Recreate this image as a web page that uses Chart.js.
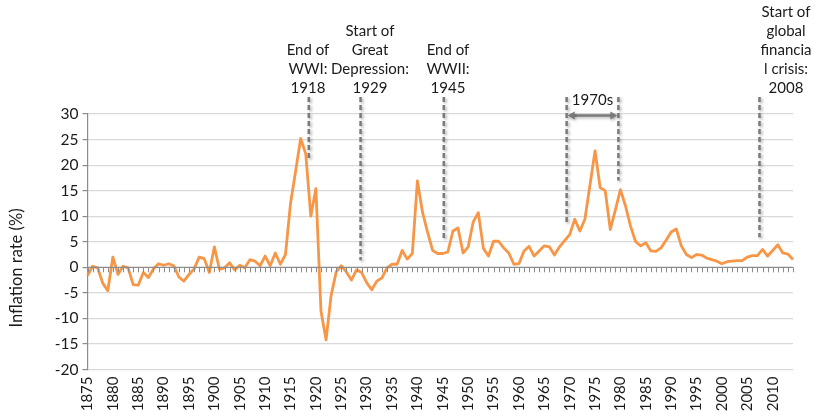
<!DOCTYPE html>
<html>
<head>
<meta charset="utf-8">
<script src="https://cdn.jsdelivr.net/npm/chart.js@4/dist/chart.umd.min.js"></script>
<style>
  html, body { margin: 0; padding: 0; background: #ffffff; }
  #wrap { width: 814px; height: 411px; position: relative; }
</style>
</head>
<body>
<div id="wrap"><canvas id="c" width="814" height="411"></canvas></div>
<script>
// ---- Data ----
const firstYear = 1875;
const lastYear = 2014;
const years = [];
for (let y = firstYear; y <= lastYear; y++) years.push(String(y));

const inflation = [
  -1.6, 0.2, -0.1, -3.1, -4.6, 2.0, -1.4, 0.2, -0.1, -3.4,   // 1875-1884
  -3.5, -1.0, -2.0, -0.3, 0.7, 0.4, 0.7, 0.3, -1.9, -2.7,    // 1885-1894
  -1.4, -0.3, 2.0, 1.7, -1.0, 4.0, -0.4, -0.1, 0.9, -0.5,    // 1895-1904
  0.4, -0.1, 1.5, 1.2, 0.3, 2.2, 0.3, 2.8, 0.6, 2.5,         // 1905-1914
  12.5, 18.8, 25.2, 22.2, 10.0, 15.4, -8.6, -14.2, -5.5, -0.9, // 1915-1924
  0.3, -0.9, -2.5, -0.5, -1.0, -3.0, -4.4, -2.7, -2.1, -0.1, // 1925-1934
  0.6, 0.6, 3.3, 1.6, 2.7, 16.9, 10.8, 6.9, 3.3, 2.7,       // 1935-1944
  2.7, 3.0, 7.1, 7.7, 2.8, 4.0, 8.9, 10.7, 3.7, 2.2,        // 1945-1954
  5.1, 5.1, 3.8, 2.8, 0.6, 0.7, 3.2, 4.1, 2.2, 3.2,         // 1955-1964
  4.2, 4.0, 2.4, 4.0, 5.2, 6.4, 9.4, 7.1, 9.4, 16.1,        // 1965-1974
  22.8, 15.6, 15.0, 7.4, 11.2, 15.2, 12.0, 8.0, 5.0, 4.2,   // 1975-1984
  4.8, 3.2, 3.1, 3.8, 5.3, 6.9, 7.5, 4.2, 2.5, 1.9,         // 1985-1994
  2.5, 2.4, 1.8, 1.5, 1.2, 0.7, 1.1, 1.2, 1.3, 1.3,         // 1995-2004
  2.0, 2.3, 2.3, 3.5, 2.2, 3.3, 4.4, 2.8, 2.6, 1.5          // 2005-2014
];

const yTicks = [30, 25, 20, 15, 10, 5, 0, -5, -10, -15, -20];
const yTitle = 'Inflation rate (%)';

// Event markers: year position, value where dashed line ends, label lines
const eventYears = [1918.6, 1928.8, 1945.2, 2007.4];
const eventEnds = [21, 1.4, 5.2, 5.9];
const eventLabels = [
  ['End of', 'WWI:', '1918'],
  ['Start of', 'Great', 'Depression:', '1929'],
  ['End of', 'WWII:', '1945'],
  ['Start of', 'global', 'financia', 'l crisis:', '2008']
];
const decadeYears = [1969.4, 1979.6];
const decadeEnds = [8.4, 17.0];
const decadeLabel = '1970s';

// ---- Styling ----
const FONT = 'Lato, "Open Sans", "DejaVu Sans", sans-serif';
const TEXT = '#1a1a1a';
const AXIS = '#8c8c8c';
const GRID = '#d9d9d9';
const DASH = '#7a7a7a';

const overlay = {
  id: 'overlay',
  afterDraw(chart) {
    const ctx = chart.ctx;
    const xs = chart.scales.x, ys = chart.scales.y;
    const ca = chart.chartArea;
    const xAt = yr => xs.getPixelForValue(yr - firstYear);
    const y0 = ys.getPixelForValue(0);

    // Y-axis title
    ctx.save();
    ctx.fillStyle = TEXT;
    ctx.font = '16.5px ' + FONT;
    ctx.textAlign = 'center';
    ctx.textBaseline = 'middle';
    ctx.translate(17, 268);
    ctx.rotate(-Math.PI / 2);
    ctx.fillText(yTitle, 0, 0);
    ctx.restore();

    // Horizontal axis at zero with yearly ticks
    ctx.save();
    ctx.strokeStyle = AXIS;
    ctx.lineWidth = 1.2;
    ctx.beginPath();
    ctx.moveTo(ca.left, y0);
    ctx.lineTo(ca.right, y0);
    ctx.stroke();
    ctx.lineWidth = 1;
    ctx.beginPath();
    for (let i = 0; i < years.length; i++) {
      const px = Math.round(xs.getPixelForValue(i)) + 0.5;
      ctx.moveTo(px, y0);
      ctx.lineTo(px, y0 + 5);
    }
    ctx.stroke();
    ctx.restore();

    const topPx = 97;
    const dashed = (x, yBottom) => {
      ctx.save();
      ctx.shadowColor = 'rgba(0,0,0,0.35)';
      ctx.shadowBlur = 3;
      ctx.shadowOffsetX = 1.5;
      ctx.shadowOffsetY = 1.5;
      ctx.strokeStyle = DASH;
      ctx.lineWidth = 2.5;
      ctx.setLineDash([5, 3]);
      ctx.beginPath();
      ctx.moveTo(x, topPx);
      ctx.lineTo(x, yBottom);
      ctx.stroke();
      ctx.restore();
    };

    // Event lines and labels
    ctx.save();
    ctx.font = '15px ' + FONT;
    ctx.fillStyle = TEXT;
    ctx.textAlign = 'center';
    ctx.textBaseline = 'middle';
    const lineH = 19;
    const lastLineY = 88;
    const labelCx = [308, 370, 448, 786];
    eventYears.forEach((yr, k) => {
      const x = xAt(yr);
      dashed(x, ys.getPixelForValue(eventEnds[k]));
      const lines = eventLabels[k];
      const cx = labelCx[k];
      lines.forEach((t, j) => {
        ctx.fillText(t, cx, lastLineY - (lines.length - 1 - j) * lineH);
      });
    });
    ctx.restore();

    // 1970s bracket
    const xl = xAt(decadeYears[0]), xr = xAt(decadeYears[1]);
    dashed(xl, ys.getPixelForValue(decadeEnds[0]));
    dashed(xr, ys.getPixelForValue(decadeEnds[1]));
    const ay = ys.getPixelForValue(29.7);
    ctx.save();
    ctx.shadowColor = 'rgba(0,0,0,0.3)';
    ctx.shadowBlur = 3;
    ctx.shadowOffsetX = 1;
    ctx.shadowOffsetY = 1.5;
    ctx.strokeStyle = DASH;
    ctx.fillStyle = DASH;
    ctx.lineWidth = 2.5;
    ctx.beginPath();
    ctx.moveTo(xl + 6, ay);
    ctx.lineTo(xr - 6, ay);
    ctx.stroke();
    ctx.beginPath();
    ctx.moveTo(xl + 1, ay);
    ctx.lineTo(xl + 8, ay - 4);
    ctx.lineTo(xl + 8, ay + 4);
    ctx.closePath();
    ctx.fill();
    ctx.beginPath();
    ctx.moveTo(xr - 1, ay);
    ctx.lineTo(xr - 8, ay - 4);
    ctx.lineTo(xr - 8, ay + 4);
    ctx.closePath();
    ctx.fill();
    ctx.restore();

    ctx.save();
    ctx.font = '15px ' + FONT;
    ctx.fillStyle = TEXT;
    ctx.textAlign = 'center';
    ctx.textBaseline = 'middle';
    ctx.fillText(decadeLabel, (xl + xr) / 2, 100);
    ctx.restore();
  }
};

new Chart(document.getElementById('c'), {
  type: 'line',
  data: {
    labels: years,
    datasets: [{
      data: inflation,
      borderColor: '#F79646',
      borderWidth: 2.8,
      pointRadius: 0,
      pointHoverRadius: 0,
      tension: 0,
      fill: false,
      borderJoinStyle: 'round'
    }]
  },
  options: {
    responsive: false,
    animation: false,
    events: [],
    layout: { padding: { top: 114, right: 21, left: 0, bottom: 0 } },
    plugins: { legend: { display: false }, tooltip: { enabled: false } },
    scales: {
      x: {
        type: 'category',
        offset: false,
        grid: { display: false, drawTicks: false },
        border: { display: false },
        ticks: {
          autoSkip: false,
          maxRotation: 90,
          minRotation: 90,
          padding: 7,
          color: TEXT,
          font: { family: FONT, size: 15 },
          callback: function (val, idx) {
            const lab = years[idx];
            return (Number(lab) % 5 === 0) ? lab : null;
          }
        },
        afterFit: s => { s.height = 41.5; }
      },
      y: {
        min: -20,
        max: 30,
        afterBuildTicks: s => { s.ticks = yTicks.map(v => ({ value: v })); },
        grid: {
          color: c => (c.tick && c.tick.value === 0) ? 'rgba(0,0,0,0)' : GRID,
          lineWidth: 1.2,
          tickLength: 5,
          tickColor: AXIS
        },
        border: { display: true, color: AXIS, width: 1.2 },
        ticks: {
          padding: 4,
          color: TEXT,
          font: { family: FONT, size: 15.5 },
          callback: v => String(v)
        },
        afterFit: s => { s.width = 87.5; }
      }
    }
  },
  plugins: [overlay]
});
</script>
</body>
</html>
